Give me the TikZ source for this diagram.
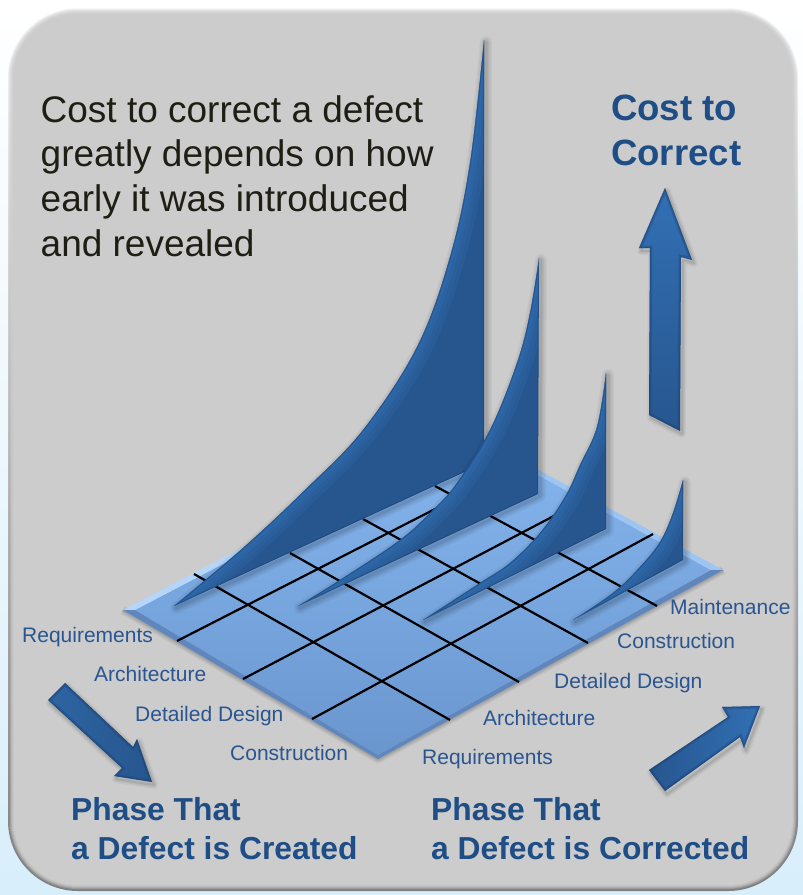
\documentclass[tikz,border=0pt]{standalone}
\usepackage{fontspec}
\setmainfont{Liberation Sans}
\usetikzlibrary{calc}
\definecolor{bluebase}{HTML}{27568F}
\definecolor{bluelite}{HTML}{3270B4}
\definecolor{bluedark}{HTML}{1B3F6E}
\definecolor{labelblue}{HTML}{2A5590}
\definecolor{headblue}{HTML}{1F4E86}
\definecolor{bodytext}{HTML}{1E1E14}
\definecolor{panelgray}{HTML}{CCCCCC}
\definecolor{pagelow}{HTML}{D8EEFB}
\definecolor{platetop}{HTML}{86B6EE}
\definecolor{platelow}{HTML}{6A96CE}
\definecolor{bevelhi}{HTML}{B4D6FA}
\definecolor{bevelmid}{HTML}{9CC5F3}
\definecolor{bevellow}{HTML}{6087BD}
\tikzset{
  smalllabel/.style={anchor=base west,inner sep=0pt,text=labelblue,font=\fontsize{21}{25}\selectfont},
  headlabel/.style={anchor=base west,inner sep=0pt,text=headblue,font=\bfseries\fontsize{#1}{#1}\selectfont},
  bodylabel/.style={anchor=base west,inner sep=0pt,text=bodytext,font=\fontsize{37}{37}\selectfont},
  gridline/.style={draw=black,line width=2.2pt},
}
% #1 curve (tip to apex), #2 lower corner
\newcommand{\spikedraw}[2]{%
  \begin{scope}[shift={(2,2)}]
    \foreach \w/\o in {12/.035,9/.04,6/.05,3/.07}{
      \draw[black,opacity=\o,line width=\w pt,line join=round] #1 -- #2 -- cycle;}
  \end{scope}
  \fill[bluebase] #1 -- #2 -- cycle;
  \begin{scope}
    \clip #1 -- #2 -- cycle;
    \foreach \w/\o in {30/.2,22/.22,14/.28,7/.32}{
      \draw[bluelite,opacity=\o,line width=\w pt] #1;}
    \draw[bluedark,opacity=.45,line width=2pt] #1 -- #2 -- cycle;
  \end{scope}
}
% #1 polygon path, #2 shading options
\newcommand{\arrowdraw}[2]{%
  \begin{scope}[shift={(2,3)}]
    \foreach \w/\o in {8/.04,5/.06,2/.08}{
      \draw[black,opacity=\o,line width=\w pt,line join=round] #1 -- cycle;}
  \end{scope}
  \shade[#2] #1 -- cycle;
  \begin{scope}
    \clip #1 -- cycle;
    \draw[bluedark,opacity=.3,line width=5pt] #1 -- cycle;
    \draw[bluedark,opacity=.4,line width=2pt] #1 -- cycle;
  \end{scope}
}
\begin{document}
\begin{tikzpicture}[x=1pt,y=-1pt]
\useasboundingbox (0,0) rectangle (803,895);
% page
\shade[top color=white,bottom color=pagelow,middle color=white!55!pagelow] (0,0) rectangle (803,895);
% panel with bevel
\shade[top color=white!85!panelgray,bottom color=black!38!panelgray,rounded corners=70pt] (8,8) rectangle (798,891);
\foreach \i/\k in {1/60,2/40,3/25,4/13,5/5}{
  \pgfmathsetmacro{\rr}{70-\i}
  \pgfmathsetmacro{\kk}{\k*.6}
  \shade[top color=white!\k!panelgray,bottom color=black!\kk!panelgray,rounded corners=\rr pt]
    (8+\i,8+\i) rectangle (798-\i,891-\i);
}
\fill[panelgray,rounded corners=64pt] (14,14) rectangle (792,885);
% plate
\coordinate (pl) at (123,610);
\coordinate (pt) at (467,431);
\coordinate (pr) at (723,570);
\coordinate (pb) at (378,759);
\coordinate (il) at (135,610);
\coordinate (it) at (467,436);
\coordinate (ir) at (711,570);
\coordinate (ib) at (378,755);
\begin{scope}[shift={(0,3)}]
\foreach \w/\o in {9/.05,6/.07,3/.09}{
  \draw[black,opacity=\o,line width=\w pt,line join=round] (pl) -- (pb) -- (pr);}
\end{scope}
\shade[top color=platetop,bottom color=platelow] (il) -- (it) -- (ir) -- (ib) -- cycle;
\fill[bevelhi] (pl) -- (pt) -- (it) -- (il) -- cycle;
\fill[bevelmid] (pt) -- (pr) -- (ir) -- (it) -- cycle;
\fill[bevellow] (pl) -- (pb) -- (ib) -- (il) -- cycle;
\fill[bevellow] (pb) -- (pr) -- (ir) -- (ib) -- cycle;
% grid
\coordinate (a1s) at (177,641); \coordinate (a1e) at (525,463);
\coordinate (a2s) at (243,679); \coordinate (a2e) at (590,497);
\coordinate (a3s) at (312,719); \coordinate (a3e) at (653,534);
\coordinate (b1s) at (194,574); \coordinate (b1e) at (450,720);
\coordinate (b2s) at (290,553); \coordinate (b2e) at (519,682);
\coordinate (b3s) at (363,519); \coordinate (b3e) at (588,643);
\coordinate (b4s) at (435,486); \coordinate (b4e) at (657,606);
\draw[gridline] (a1s) -- (a1e);
\draw[gridline] (a2s) -- (a2e);
\draw[gridline] (a3s) -- (a3e);
\draw[gridline] (b1s) -- (b1e);
\draw[gridline] (b2s) -- (b2e);
\draw[gridline] (b3s) -- (b3e);
\draw[gridline] (b4s) -- (b4e);
% spikes
\spikedraw{plot[smooth,tension=.6] coordinates {(174,606) (243,548) (305,490) (363,430) (417,347) (450,257) (470,163) (484,40)}}{(484,463)}
\spikedraw{plot[smooth,tension=.6] coordinates {(298,606) (340,580) (400,540) (433,510) (457,483) (490,430) (517,363) (530,313) (539,258)}}{(538,494)}
\spikedraw{plot[smooth,tension=.6] coordinates {(423,620) (480,583) (510,563) (540,533) (565,497) (580,465) (597,427) (606,373)}}{(606,529)}
\spikedraw{plot[smooth,tension=.6] coordinates {(573,620) (613,593) (640,567) (660,542) (673,513) (683,480)}}{(683,560)}
% arrows
\arrowdraw{(665,188) -- (692,260) -- (681,257) -- (680,431) -- (649,415) -- (650,248) -- (639,248)}{top color=bluelite,bottom color=bluebase}
\arrowdraw{(48,700) -- (65,683) -- (133,747) -- (137,739) -- (152,782) -- (114,776) -- (122,768)}{left color=bluelite!90!black,right color=bluebase}
\arrowdraw{(760,706) -- (722,707) -- (728,717) -- (649,770) -- (665,791) -- (740,737) -- (744,748)}{left color=bluebase,right color=bluelite}
% texts
\node[bodylabel,align=left] (intro) at (40.5,256) {Cost to correct a defect\\[7.6pt]greatly depends on how\\[7.6pt]early it was introduced\\[7.6pt]and revealed};
\node[headlabel=36.6,align=left] (costaxis) at (611,165) {Cost to\\[8.4pt]Correct};
\node[headlabel=31.8,align=left] (createdaxis) at (71,859) {Phase That\\[7.2pt]a Defect is Created};
\node[headlabel=31.8,align=left] (correctedaxis) at (431,859) {Phase That\\[7.2pt]a Defect is Corrected};
\node[smalllabel] (lreq) at (22,642) {Requirements};
\node[smalllabel] (larc) at (94,681) {Architecture};
\node[smalllabel] (ldes) at (135,721) {Detailed Design};
\node[smalllabel] (lcon) at (230,760) {Construction};
\node[smalllabel] (rreq) at (422,764) {Requirements};
\node[smalllabel] (rarc) at (483,725) {Architecture};
\node[smalllabel] (rdes) at (554,688) {Detailed Design};
\node[smalllabel] (rcon) at (617,648) {Construction};
\node[smalllabel] (rmai) at (670,614) {Maintenance};
\end{tikzpicture}
\end{document}
